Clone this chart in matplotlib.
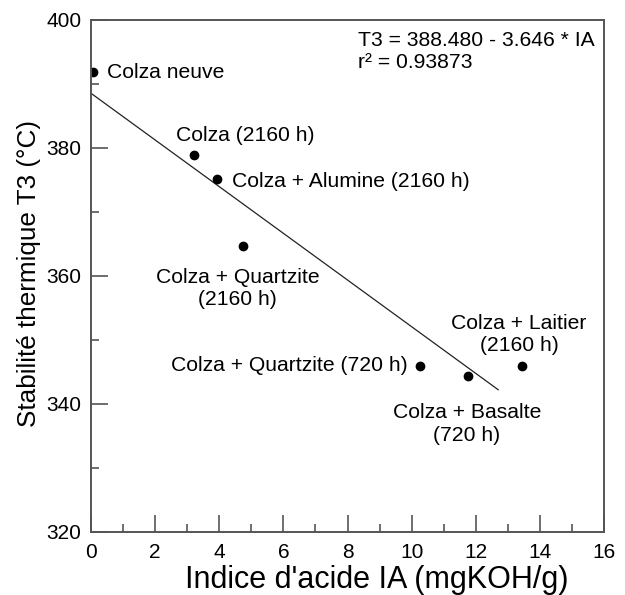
import matplotlib
matplotlib.use('Agg')
import matplotlib.pyplot as plt
from matplotlib.ticker import MultipleLocator

plt.rcParams['font.family'] = ['Liberation Sans', 'DejaVu Sans']

# data
labels = ['Colza neuve', 'Colza (2160 h)', 'Colza + Alumine (2160 h)',
          'Colza + Quartzite\n(2160 h)', 'Colza + Quartzite (720 h)',
          'Colza + Basalte\n(720 h)', 'Colza + Laitier\n(2160 h)']
acid_index = [0.07, 3.22, 3.92, 4.74, 10.26, 11.77, 13.45]
t3 = [391.75, 378.9, 375.1, 364.6, 345.9, 344.3, 345.9]

# regression T3 = a + b * IA
intercept = 388.480
slope = -3.646
fit_x = [0.0, 12.7]
fit_y = [intercept + slope * v for v in fit_x]

fig = plt.figure(figsize=(6.25, 5.95), dpi=100)
ax = fig.add_axes([0.1456, 0.1064, 0.8208, 0.8608])

ax.plot(fit_x, fit_y, color='#222222', lw=0.9)
ax.plot(acid_index, t3, 'o', color='black', markersize=6)

# label offsets in points (dx, dy, ha)
offsets = [
    (10, 0, 'left'),
    (36.5, 13.9, 'center'),
    (11, -2, 'left'),
    (-4, -30.6, 'center'),
    (-9, 0, 'right'),
    (-1, -34.5, 'center'),
    (-2.4, 22.8, 'center'),
]
for x, y, lab, (dx, dy, ha) in zip(acid_index, t3, labels, offsets):
    ax.annotate(lab, (x, y), xytext=(dx, dy), textcoords='offset points',
                ha=ha, va='center', fontsize=15.2, linespacing=1.22)

fig.text(0.573, 0.9134, 'T3 = 388.480 - 3.646 * IA\nr² = 0.93873',
         ha='left', va='center', fontsize=15.2, linespacing=1.18)

ax.set_xlim(0, 16)
ax.set_ylim(320, 400)
ax.xaxis.set_major_locator(MultipleLocator(2))
ax.xaxis.set_minor_locator(MultipleLocator(1))
ax.yaxis.set_major_locator(MultipleLocator(20))
ax.yaxis.set_minor_locator(MultipleLocator(10))
ax.tick_params(which='both', direction='in', top=False, right=False,
               color='#555555', width=1.2, labelsize=15)
ax.tick_params(which='major', length=12)
ax.tick_params(which='minor', length=6)
ax.tick_params(axis='x', which='major', pad=8)
ax.tick_params(axis='y', which='major', pad=7)
for s in ax.spines.values():
    s.set_color('#555555')
    s.set_linewidth(1.4)

# axis titles placed where the reference has them
fig.text(376.5 / 625, 0.0, "Indice d'acide IA (mgKOH/g)", fontsize=22,
         ha='center', va='bottom')
fig.text(29 / 625, 1 - 274 / 595, 'Stabilité thermique T3 (°C)', fontsize=18.8,
         rotation=90, ha='center', va='center')

fig.savefig('out.png', dpi=100)
